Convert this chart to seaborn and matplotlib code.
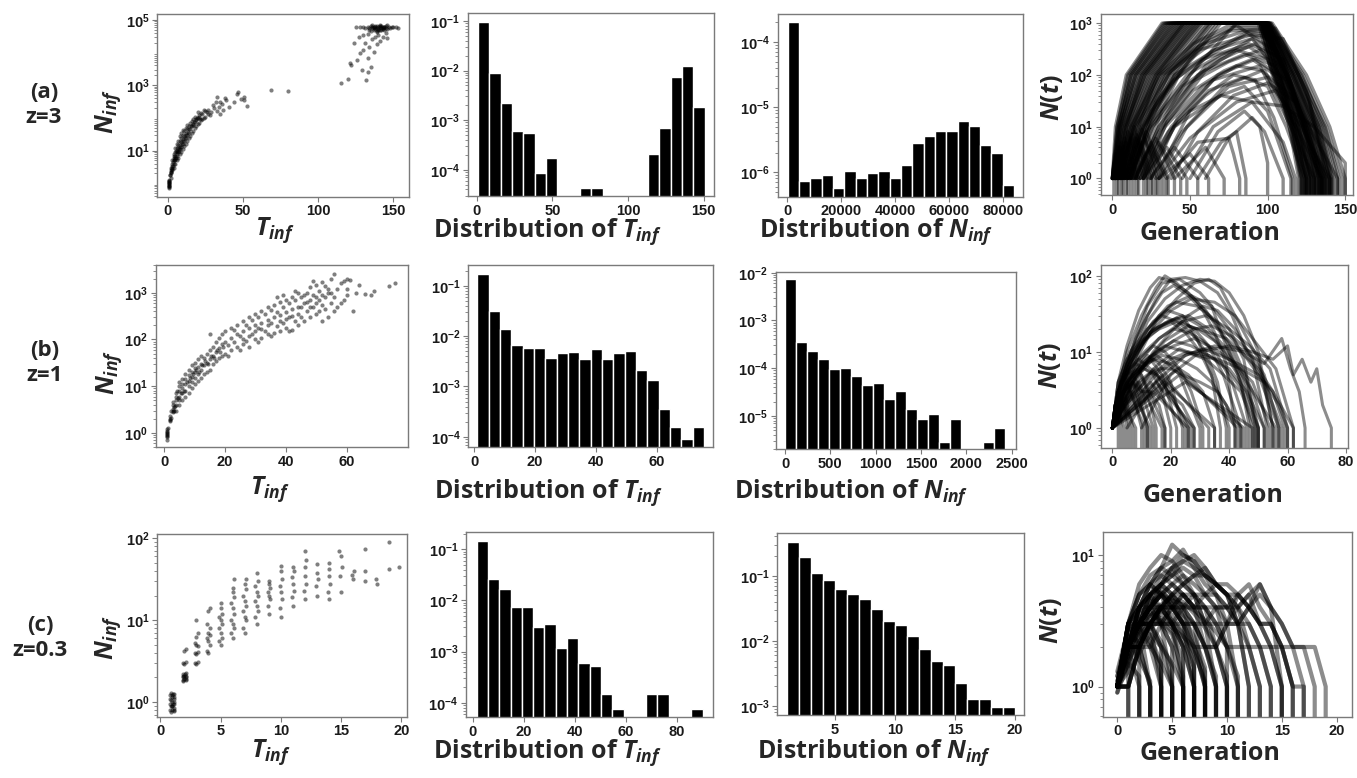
import numpy as np
import pandas as pd
import matplotlib
matplotlib.use("Agg")
import matplotlib.pyplot as plt
import seaborn as sns

# ---------------- data: scatter panels (T_inf, N_inf) ----------------
scatter_a = [(1.0,0.7),(1.0,0.8),(1.0,0.9),(1.0,1.0),(1.0,1.1),(1.0,1.2),(1.1,1.3),(0.9,0.75),(1.0,0.85),(1.0,0.95),(1.0,1.05),(1.0,1.15),
    (2,1.5),(2,2),(2,2.5),(2,3),(1.8,1.8),(2.2,2.2),(3,2.5),(3,3),(3,4),(3,5),(2.8,3.5),(3.2,2.8),
    (4,3),(4,4),(4,5),(4,6),(4,8),(3.8,4.5),(4.2,7),(5,4),(5,5),(5,7),(5,9),(5,12),(4.8,6),(5.3,10),
    (6,5),(6,7),(6,9),(6,12),(6,16),(6.2,10),(7,6),(7,9),(7,12),(7,15),(7,20),(7.3,11),
    (8,8),(8,11),(8,15),(8,20),(8,28),(9,9),(9,13),(9,18),(9,25),(9,35),(10,11),(10,16),(10,22),(10,30),(10,42),
    (11,14),(11,20),(11,28),(11,40),(12,16),(12,24),(12,34),(12,50),(13,20),(13,30),(13,45),(13,60),
    (14,25),(14,35),(14,55),(15,28),(15,45),(15,70),(16,35),(16,55),(16,80),(17,40),(17,65),(17,95),
    (18,50),(18,75),(18,110),(19,55),(19,90),(20,65),(20,100),(20,150),(21,70),(21,120),(22,85),(22,140),
    (23,95),(23,135),(25,110),(25,160),(27,130),(27,175),(29,150),(30,245),(33,450),(33,160),(35,310),(35,135),
    (37,180),(39,350),(41,220),(46,520),(51,450),(51,360),(53,230),(69,700),(80,680),(115,1150),(120,1600),
    (1.5,1.8),(2.5,2.2),(3.5,3.5),(4.5,5),(5.5,6),(6.5,8),(7.5,10),(8.5,13),(9.5,16),(10.5,20),(11.5,25),
    (12.5,30),(13.5,38),(14.5,45),(15.5,55),(16.5,60),(17.5,75),(18.5,85),(19.5,100),(20.5,110),(21.5,95),
    (24,100),(24,170),(26,150),(28,120),(31,200),(32,300),(34,220),(36,260),(38,400),(44,300),(47,600),(49,380),
    (121,4700),(122,4200),(124,19000),(128,9500),(129,2900),(133,2600),(132,1450),(126,6000),(130,12000),
    (131,20000),(133,7000),(134,15000),(135,3500),(136,25000),(137,10000),(138,30000),(139,18000),(140,35000),
    (141,22000),(143,30000),(145,40000),(146,28000),(127,30000),(130,35000),(133,38000),
    (131,55000),(133,60000),(134,50000),(135,65000),(136,55000),(137,48000),(137,62000),(138,58000),(138,52000),
    (139,66000),(139,45000),(140,60000),(140,54000),(141,50000),(141,63000),(142,57000),(142,47000),(143,61000),
    (143,53000),(144,58000),(144,49000),(145,64000),(145,55000),(146,52000),(147,60000),(148,56000),(149,62000),
    (150,58000),(152,60000),(153,55000),(128,60000),(125,62000),(130,58000),(136,70000),(141,70000),(146,67000),
    (139,42000),(135,45000),(134,56000),(136,60000),(138,64000),(140,50000),(142,66000),(144,62000),(137,57000),
    (139,55000),(141,58000),(143,56000)]

scatter_b = [(1,0.7),(1,0.8),(1,0.9),(1,1.0),(1,1.1),(1,1.2),(1.1,1.3),(0.9,0.85),(1,0.95),(1,1.05),
    (2,1.8),(2,2),(2,2.3),(2.2,2.1),(1.9,1.9),(2.1,3),(3,2.8),(3,3),(3,3.2),(3.2,3.5),(2.9,4),(3,4.5),(3.3,3),
    (4,3),(4,4),(4,5),(4,6),(4,7),(4.2,8),(5,4),(5,5),(5,6),(5,8),(5,10),(5,12),(6,5),(6,7),(6,9),(6,11),(6,14),
    (7,6),(7,8),(7,11),(7,14),(7,18),(8,7),(8,10),(8,13),(8,17),(8,22),(9,9),(9,12),(9,16),(9,20),(9,28),
    (10,11),(10,15),(10,20),(10,25),(10,32),(11,13),(11,18),(11,26),(11,38),(12,15),(12,22),(12,30),(12,45),
    (13,18),(13,28),(13,40),(14,20),(14,32),(14,50),(15,22),(15,38),(15,60),(15,130),(16,30),(16,45),(16,70),
    (17,35),(17,55),(17,90),(18,40),(18,65),(18,110),(19,45),(19,80),(19,130),(20,50),(20,90),(20,150),
    (22,60),(22,110),(22,180),(24,70),(24,130),(24,200),(26,80),(26,150),(26,250),(26,100),
    (28,70),(28,180),(28,300),(28,120),(30,100),(30,200),(30,350),(30,150),(32,110),(32,230),(32,400),(32,170),
    (34,130),(34,260),(34,500),(34,200),(36,140),(36,300),(36,550),(38,150),(38,330),(38,650),(38,250),
    (40,180),(40,380),(40,700),(40,280),(42,160),(42,450),(42,800),(42,320),(44,200),(44,500),(44,1000),(44,350),
    (46,250),(46,600),(46,900),(48,300),(48,700),(48,1300),(48,500),(50,350),(50,800),(50,1500),(50,600),
    (52,250),(52,900),(52,1700),(52,550),(54,300),(54,1000),(54,1200),(56,400),(56,800),(56,2500),
    (58,600),(58,1600),(60,900),(60,2000),(60,1200),(62,400),(61,1900),(66,950),(68,900),(74,1400),(76,1600),
    (21,45),(21,75),(23,90),(23,160),(25,60),(25,120),(27,95),(27,200),(29,130),(29,260),(31,90),(31,180),
    (31,300),(33,150),(33,350),(35,120),(35,220),(35,420),(37,190),(37,380),(37,800),(39,220),(39,500),
    (39,900),(41,150),(41,300),(41,600),(43,250),(43,700),(43,1100),(45,300),(45,500),(45,800),(47,400),
    (47,1000),(47,650),(49,500),(49,900),(49,1800),(51,700),(51,1100),(51,400),(53,450),(53,800),(53,1400),
    (55,600),(55,1000),(55,2000),(57,500),(57,1200),(59,700),(59,1800),(63,1000),(64,1500),(69,1100),
    (3.5,3.8),(4.5,5.5),(5.5,7),(6.5,8),(7.5,12),(8.5,15),(9.5,18),(10.5,22),(11.5,20),(12.5,28),(13.5,35),
    (14.5,30),(15.5,45),(16.5,40),(17.5,60),(18.5,55),(19.5,70)]

scatter_c = [(0.9,0.75),(1.0,0.8),(1.1,0.85),(0.95,0.9),(1.05,0.95),(1.0,1.0),(0.9,1.05),(1.1,1.1),(1.0,1.15),
    (0.95,1.2),(1.05,1.25),(0.9,1.3),(1.1,0.78),(1.0,0.88),(0.85,0.95),(1.15,1.0),(0.85,1.2),(1.15,1.25),
    (0.85,0.8),(1.15,0.8),(0.85,1.1),(1.15,1.15),(0.9,0.9),(1.1,0.95),
    (1.9,1.8),(2.0,1.9),(2.1,2.0),(1.95,2.1),(2.05,2.2),(2.1,1.85),(1.9,3),(2.1,3.1),(2.0,2.9),(2.0,4.2),(2.1,4.5),
    (1.85,2.0),(2.15,2.1),(1.85,2.2),(2.15,1.9),(1.85,1.85),(2.15,2.25),(1.9,2.05),
    (2.9,3),(3.1,3.1),(3.0,2.9),(2.9,4),(3.1,4.1),(3.0,3.9),(3.0,5),(2.9,5.2),(3.1,4.8),(3.0,6.2),(3.1,7),(3.0,10),
    (4,4),(3.9,4.2),(4.1,5),(4,5.5),(3.9,6),(4.1,6.5),(4,7),(4.1,8),(3.9,9),(4,13),(4.1,14),
    (5,5),(4.9,5.5),(5.1,6),(5,7),(4.9,8),(5.1,9),(5,10),(4.9,11),(5.1,12),(5,14),(5,16),
    (6,6),(5.9,7),(6.1,8),(6,9),(5.9,10),(6.1,12),(6,14),(5.9,16),(6.1,19),(6,22),(6,25),(6.1,32),
    (7,7),(6.9,8),(7.1,10),(7,11),(6.9,13),(7.1,15),(7,17),(6.9,20),(7.1,24),(7,28),(7.1,32),
    (8,9),(7.9,11),(8.1,13),(8,15),(7.9,17),(8.1,20),(8,22),(7.9,26),(8.1,30),(8,38),
    (9,12),(8.9,15),(9.1,18),(9,20),(8.9,22),(9.1,25),(9,28),(9,30),
    (10,11),(9.9,14),(10.1,18),(10,22),(9.9,26),(10.1,32),(10,40),(10,46),
    (11,15),(10.9,19),(11.1,23),(11,28),(10.9,34),(11.1,40),(11,45),
    (12,18),(11.9,23),(12.1,28),(12,35),(12,45),(12.1,55),(12,70),
    (13,20),(12.9,26),(13.1,32),(13,38),(13,48),(14,18),(13.9,22),(14.1,28),(14,35),(14,42),(14,50),
    (15,22),(14.9,35),(15.1,45),(15,60),(14.8,70),(16,32),(15.9,36),(16.1,40),(17,30),(17,40),(17,75),
    (18,28),(17.9,32),(19,42),(19,90),(19.8,45)]

# ---------------- data: histograms (bin range, bin heights) ----------------
hist_T_a_range = (0.9, 150.6)
hist_T_a = [0.097, 9.1e-3, 2.2e-3, 6.0e-4, 5.5e-4, 8.5e-5, 1.74e-4, 0, 0, 4.3e-5,
            4.3e-5, 0, 0, 0, 0, 2.1e-4, 7.1e-4, 7.3e-3, 1.26e-2, 1.8e-3]
hist_N_a_range = (200, 84280)
hist_N_a = [2.0e-4, 7.2e-7, 8.1e-7, 8.9e-7, 5.7e-7, 1.05e-6, 8.1e-7, 9.7e-7, 1.05e-6, 8.1e-7,
            1.28e-6, 2.8e-6, 3.65e-6, 4.3e-6, 4.3e-6, 6.1e-6, 5.2e-6, 2.66e-6, 2.0e-6, 6.4e-7]
hist_T_b_range = (1.0, 75.5)
hist_T_b = [0.171, 0.032, 0.0138, 6.7e-3, 5.85e-3, 5.85e-3, 3.76e-3, 4.65e-3, 4.9e-3, 3.5e-3,
            5.5e-3, 3.5e-3, 4.65e-3, 5.1e-3, 2.1e-3, 1.33e-3, 3.5e-4, 1.6e-4, 8.9e-5, 1.6e-4]
hist_N_b_range = (0, 2426)
hist_N_b = [7.4e-3, 3.6e-4, 2.24e-4, 1.55e-4, 9.5e-5, 1.0e-4, 6.9e-5, 4.5e-5, 4.8e-5, 2.3e-5,
            3.4e-5, 1.4e-5, 8.5e-6, 1.12e-5, 2.85e-6, 8.5e-6, 0, 0, 2.85e-6, 5.6e-6]
hist_T_c_range = (1.6, 90.2)
hist_T_c = [0.147, 0.0263, 0.0166, 7.6e-3, 7.6e-3, 3.05e-3, 3.4e-3, 1.2e-3, 1.87e-3, 5.9e-4,
            5.2e-4, 1.5e-4, 7.5e-5, 0, 0, 1.5e-4, 1.5e-4, 0, 0, 7.5e-5]
hist_N_c_range = (1, 20)
hist_N_c = [0.33, 0.195, 0.111, 0.087, 0.063, 0.052, 0.0435, 0.0305, 0.02, 0.0178,
            0.0118, 7.5e-3, 4.9e-3, 4.3e-3, 2.26e-3, 1.3e-3, 1.3e-3, 9.7e-4, 9.7e-4]

# ---------------- data: trajectories N(t) ----------------
cap_levels = [1, 10, 100, 1000, 1000, 100, 10, 1, 0]   # N of saturating runs at the listed times
cap_times_a = [
 [0,3,10,33,95,104,115,121,122], [0,4,12,36,96,106,117,124,125], [1,5,14,38,97,108,119,126,127],
 [1,6,16,41,97,109,121,128,129], [2,7,18,43,98,111,123,130,131], [2,8,20,46,98,112,125,132,133],
 [3,10,22,48,99,114,127,134,135], [4,11,25,51,99,115,128,136,137], [5,13,27,54,100,117,130,138,139],
 [6,15,30,57,100,118,132,140,141], [8,18,33,60,101,120,134,142,143], [10,21,37,64,101,122,136,145,146],
 [0,5,15,40,96,107,118,125,126], [1,7,19,45,97,110,122,129,130], [3,9,21,47,98,113,126,133,134],
 [5,12,26,52,99,116,129,137,138], [7,16,31,58,100,119,133,141,142], [12,24,40,68,102,123,138,148,149],
 [0,3,11,34,95,105,116,123,124], [2,6,17,42,98,110,124,131,132], [15,30,50,80,103,125,140,150,151],
 [0,2,9,32,94,103,114,120,121], [0,4,13,37,95,105,116,122,123], [1,4,12,35,96,107,118,124,125],
 [2,9,19,44,97,109,120,127,128], [3,11,24,50,98,111,124,131,132], [4,9,23,49,99,112,126,133,134],
 [6,13,28,55,99,114,128,135,136], [7,17,29,56,100,116,131,139,140], [9,19,34,62,101,118,133,141,142],
 [11,23,39,66,101,120,135,143,144], [13,26,43,70,102,121,137,146,147], [1,8,21,46,96,108,120,127,128],
 [2,5,15,39,97,106,117,125,126], [4,14,28,53,98,113,127,136,137], [8,20,36,63,100,117,131,138,139],
]
other_a = [
 ([15,30,55,80,100,118,128,129],[1,10,100,300,200,10,1,0]),
 ([20,38,65,95,115,130,131],[1,10,80,150,10,1,0]),
 ([25,45,75,100,120,135,136],[1,8,60,90,8,1,0]),
 ([30,50,80,105,122,138,139],[1,6,30,50,10,1,0]),
 ([18,35,60,90,108,125,126],[1,15,150,500,100,1,0]),
 ([22,40,70,85,100,115,116],[1,10,40,60,20,1,0]),
 ([35,55,75,78,82,83],[1,5,6,3,1,0]),
 ([40,60,72,73],[1,4,1,0]),
 ([28,50,70,90,110,118,119],[1,20,40,30,5,1,0]),
 ([45,65,90,110,130,150,151],[1,10,30,25,10,2,0]),
 ([10,25,50,75,105,125,140,141],[1,20,200,700,800,50,1,0]),
 ([12,28,55,90,110,127,137,138],[1,30,300,600,500,30,1,0]),
 ([20,35,60,85,105,120,130,131],[1,12,120,250,150,10,1,0]),
 ([25,42,68,92,112,126,134,135],[1,15,100,200,80,5,1,0]),
 ([30,48,72,96,115,128,140,141],[1,10,60,120,40,4,1,0]),
 ([38,55,78,100,118,132,145,146],[1,8,40,70,30,5,1,0]),
 ([15,32,58,88,110,124,133,134],[1,20,200,400,200,10,1,0]),
 ([50,68,85,95,100,101],[1,8,20,10,2,0]),
 ([55,70,80,86,87],[1,5,8,1,0]),
 ([60,75,90,98,110,111],[1,6,15,8,1,0]),
 ([5,15,35,60,85,100,112,125,135,136],[1,10,100,400,700,600,100,10,1,0]),
 ([8,20,40,65,90,105,118,130,131],[1,10,80,300,500,300,30,1,0]),
 ([10,22,45,70,92,104,117,128,129],[1,8,60,200,400,250,20,1,0]),
 ([6,18,38,62,80,98,112,122,123],[1,12,120,500,900,400,40,1,0]),
 ([12,26,50,75,95,108,120,132,133],[1,10,70,180,300,150,20,1,0]),
 ([4,14,32,55,78,95,110,124,134,135],[1,10,100,350,800,800,200,10,1,0]),
 ([14,30,52,72,90,105,118,127,128],[1,8,50,120,200,100,10,1,0]),
 ([9,21,42,64,86,100,114,126,136,137],[1,10,90,250,600,500,80,8,1,0]),
 ([16,34,58,80,98,110,122,123],[1,10,60,150,120,30,1,0]),
 ([18,36,60,78,92,104,116,117],[1,8,40,100,80,15,1,0]),
 ([7,19,40,66,88,102,116,130,140,141],[1,10,100,300,700,700,100,10,1,0]),
 ([11,25,48,70,88,100,112,125,126],[1,12,100,250,350,200,20,1,0]),
 ([20,40,62,85,100,112,124,125],[1,10,50,90,60,10,1,0]),
 ([3,12,30,52,75,97,110,125,135,136],[1,10,100,400,900,900,150,10,1,0]),
 ([0,2,4,5],[1,3,1,0]), ([1,4,7,8],[1,4,1,0]), ([2,6,10,11],[1,5,1,0]),
 ([3,8,14,15],[1,6,1,0]), ([4,10,17,18],[1,8,1,0]), ([5,12,20,21],[1,6,1,0]),
 ([6,14,23,24],[1,10,1,0]), ([8,16,26,27],[1,7,1,0]), ([10,19,29,30],[1,9,1,0]),
 ([12,22,33,34],[1,8,1,0]), ([14,25,36,37],[1,5,1,0]), ([16,28,40,41],[1,6,1,0]),
 ([20,35,48,49],[1,4,1,0]), ([0,1,2],[1,2,0]), ([1,3,4],[1,2,0]),
 ([0,3,6,7],[1,3,1,0]), ([1,5,9,10],[1,4,1,0]), ([2,7,12,13],[1,4,1,0]), ([3,9,16,17],[1,5,1,0]),
 ([5,13,22,23],[1,7,1,0]), ([7,15,25,26],[1,6,1,0]), ([9,18,28,29],[1,5,1,0]), ([11,21,31,32],[1,6,1,0]),
 ([13,24,35,36],[1,4,1,0]), ([18,30,44,45],[1,5,1,0]), ([24,40,55,56],[1,4,1,0]), ([30,50,62,63],[1,3,1,0]),
]

traj_b = [
 ([0,2,5,10,15,18,22,28,35,42,48,52,53],[1,3,10,30,70,100,80,50,25,10,3,1,0]),
 ([0,3,7,12,17,23,30,34,38,44,47,48],[1,4,12,40,80,90,60,40,15,4,1,0]),
 ([0,4,9,15,22,28,33,37,42,50,55,56],[1,3,9,25,50,80,90,70,30,8,1,0]),
 ([0,2,6,11,16,22,29,36,43,50,57,58],[1,2,6,15,30,45,40,25,12,5,1,0]),
 ([0,1,4,8,13,19,26,33,40,46,50,51],[1,2,5,10,18,25,30,20,10,3,1,0]),
 ([0,3,6,10,14,20,25,30,35,40,41],[1,3,6,12,20,25,18,10,4,1,0]),
 ([0,2,5,9,14,18,23,27,31,32],[1,2,4,8,12,10,6,3,1,0]),
 ([0,3,8,12,16,20,24,25],[1,3,6,9,7,4,1,0]),
 ([0,2,5,9,12,15,16],[1,3,5,6,3,1,0]),
 ([0,4,10,16,24,32,40,47,54,60,61],[1,3,8,15,25,30,20,12,6,1,0]),
 ([0,2,6,12,19,27,34,40,45,49,50],[1,4,10,20,40,55,40,20,8,1,0]),
 ([0,1,3,6,10,14,19,24,29,34,37,38],[1,2,4,8,15,25,35,30,15,5,1,0]),
 ([0,3,9,14,20,26,31,36,42,48,53,54],[1,2,5,10,18,30,40,35,20,8,1,0]),
 ([0,2,4,8,11,14,17,20,21],[1,2,3,5,6,5,3,1,0]),
 ([0,5,11,18,26,33,39,44,50,55,59,60],[1,3,7,14,22,18,15,10,6,3,1,0]),
 ([0,2,7,13,20,27,35,42,48,56,62,63],[1,3,8,18,35,50,45,30,15,6,1,0]),
 ([0,3,6,10,13,17,20,22,23],[1,2,4,6,8,5,2,1,0]),
 ([0,1,3,5,8,10,11],[1,2,3,4,2,1,0]),
 ([0,2,5,8,12,17,22,27,32,36,39,40],[1,3,6,10,20,30,25,18,10,4,1,0]),
 ([0,4,8,14,21,28,34,41,47,52,57,58],[1,2,5,9,14,20,22,16,10,5,1,0]),
 ([0,2,6,11,17,22,28,33,38,44,45],[1,3,7,14,22,28,20,12,5,1,0]),
 ([0,3,7,11,15,19,23,27,30,31],[1,2,4,7,9,7,5,2,1,0]),
 ([10,20,30,40,48,55,60,62,65,68,70,72,75,76],[1,5,10,12,10,8,12,5,8,4,6,2,1,0]),
 ([5,15,25,35,45,52,58,61,64,66,67],[1,4,9,12,10,7,15,6,3,1,0]),
 ([0,3,8,15,20,25,30,36,41,46,52,58,59],[1,4,15,50,90,95,85,60,30,10,4,1,0]),
 ([0,2,6,12,17,21,26,31,35,39,42,43],[1,3,9,30,60,75,55,35,18,7,1,0]),
 ([0,5,10,16,23,29,36,44,52,57,60,61],[1,2,4,7,11,9,8,6,4,2,1,0]),
 ([0,2,5,9,13,16,20,26,32,40,47,50,51],[1,4,12,35,70,95,85,60,35,12,3,1,0]),
 ([0,3,7,12,18,24,30,35,40,45,50,55,56],[1,3,9,25,50,75,90,85,60,30,10,1,0]),
 ([0,2,5,9,14,20,26,31,35,36],[1,2,4,6,8,7,5,3,1,0]),
 ([0,1,4,7,12,17,23,29,34,39,42,43],[1,2,3,5,7,9,8,6,4,2,1,0]),
 ([0,3,7,12,18,25,32,38,44,49,50],[1,3,5,8,12,10,8,5,3,1,0]),
 ([0,2,4,7,10,13,16,18,19],[1,2,3,4,3,3,2,1,0]),
 ([0,2,6,10,15,21,27,33,40,46,52,53],[1,2,4,7,10,14,12,9,6,3,1,0]),
 ([0,1,3,6,9,13,18,22,26,27],[1,2,4,6,8,6,4,2,1,0]),
 ([0,4,9,15,21,28,35,42,48,54,55],[1,3,5,9,12,15,11,7,4,1,0]),
 ([0,2,5,8,11,15,19,24,28,29],[1,3,5,7,6,5,3,2,1,0]),
 ([0,3,8,14,20,26,33,39,45,50,51],[1,2,3,5,8,10,9,6,3,1,0]),
 ([0,2,6,11,16,21,26,31,36,41,46,47],[1,3,6,10,15,20,18,14,9,4,1,0]),
 ([0,1,2,4,7,10,14,15],[1,2,3,4,5,3,1,0]),
 ([0,2,5,10,16,22,29,35,41,46,56,57],[1,4,8,14,20,25,20,14,8,4,1,0]),
 ([0,3,6,9,12,16,20,24,30,36,44,45],[1,2,3,4,5,6,6,5,4,3,1,0]),
 ([0,1,3,5,7,9,12,13],[1,2,3,3,4,3,1,0]),
 ([0,2,5,9,13,18,24,30,37,43,48,49],[1,3,7,12,18,24,30,22,12,5,1,0]),
 ([0,4,10,15,20,25,31,37,43,50,55,62,63],[1,2,3,5,7,9,11,9,7,5,3,1,0]),
 ([0,1,2,4,6,7],[1,2,2,2,1,0]), ([0,2,4,5],[1,2,1,0]),
 ([0,1,2,3],[1,2,1,0]), ([0,2,3,4],[1,2,1,0]), ([0,3,5,6],[1,3,1,0]),
 ([0,4,7,8],[1,3,1,0]), ([0,4,8,9],[1,2,1,0]), ([0,6,11,12],[1,3,1,0]),
 ([0,7,12,13],[1,4,1,0]), ([0,7,13,14],[1,3,1,0]), ([0,9,17,18],[1,4,1,0]),
 ([0,10,18,19],[1,5,1,0]), ([0,13,25,26],[1,4,1,0]), ([0,14,26,27],[1,3,1,0]),
 ([0,14,27,28],[1,6,1,0]), ([0,15,28,29],[1,4,1,0]), ([0,17,33,34],[1,5,1,0]),
 ([0,18,35,36],[1,4,1,0]), ([0,22,43,44],[1,6,1,0]), ([0,23,45,46],[1,5,1,0]),
 ([0,25,48,49],[1,4,1,0]),
]

traj_c = [
 ([0,1,2,3,4,5,6,7],[1,2,3,4,3,2,1,0]),
 ([0,1,2,3,4,5,6,7,8,9],[1,2,4,5,6,5,4,2,1,0]),
 ([0,1,2,3,4,5,6,7,8,9,10,11],[1,3,5,7,8,9,7,5,4,2,1,0]),
 ([0,1,2,3,4,5],[1,2,2,3,1,0]),
 ([0,1,2,3,4],[1,2,3,1,0]),
 ([0,1,2,3],[1,2,1,0]),
 ([0,1,2],[1,1,0]),
 ([0,1,2,3,4,5,6,7,8,9,10,11,12,13,14],[1,2,3,5,6,8,10,9,7,6,5,4,2,1,0]),
 ([0,1,2,3,4,5,6,7,8,9,10,11,12,13,14,15,16,17],[1,2,3,4,6,5,5,4,4,3,3,5,6,4,3,2,1,0]),
 ([0,1,2,3,4,5,6,7,8],[1,3,4,6,5,4,3,1,0]),
 ([0,1,2,3,4,5,6],[1,2,3,3,2,1,0]),
 ([0,1,2,3,4,5,6,7,8,9,10,11,12,13,14,15,16,17,18,19],[1,2,4,6,8,12,10,9,7,6,5,4,5,6,4,3,2,2,1,0]),
 ([0,1,2,3,4,5,6,7,8,9,10],[1,2,3,5,7,8,6,5,3,1,0]),
 ([0,1,2,3,4,5,6,7,8,9,10,11,12,13],[1,1,2,3,4,5,6,7,8,6,5,3,1,0]),
 ([0,1,2,3,4,5,6,7,8,9,10,11,12,13,14,15,16],[1,2,3,4,5,4,4,3,2,2,3,4,5,3,2,1,0]),
 ([0,1,2,3,4,5,6,7,8,9,10,11,12],[1,3,6,8,10,9,11,8,6,5,3,1,0]),
 ([0,1,2,3,4,5,6,7,8,9,10,11,12,13,14,15],[1,2,2,3,4,4,5,4,3,3,2,2,2,2,1,0]),
 ([0,1,2,3,4,5,6,7,8,9],[1,2,3,4,4,3,3,2,1,0]),
 ([0,1,2,3,4,5,6,7],[1,2,4,5,4,3,1,0]),
 ([0,1,2,3,4,5,6,7,8,9,10,11,12,13,14,15,16,17,18],[1,1,2,2,3,3,4,4,5,5,4,3,3,2,2,2,1,1,0]),
 ([0,1,2,3,4,5],[1,2,3,2,1,0]),
 ([0,1,2,3,4,5,6,7,8,9,10,11],[1,3,5,6,8,7,6,5,3,2,1,0]),
 ([0,1,2,3,4,5,6,7,8,9,10,11,12,13,14,15,16,17,18,19,20],[1,2,3,3,4,4,3,3,2,2,3,3,4,5,4,3,2,2,2,1,0]),
 ([0,1,2,3,4,5,6,7,8,9,10,11,12,13],[1,2,3,5,6,7,9,10,8,6,5,3,1,0]),
 ([0,1,2],[1,2,0]),
 ([0,1,2,3,4],[1,1,2,1,0]),
 ([0,1,2,3,4,5,6,7,8],[1,2,3,3,4,3,2,1,0]),
 ([0,1,2,3,4,5,6,7,8,9,10],[1,2,2,3,3,4,3,2,2,1,0]),
 ([0,1,2,3,4,5,6],[1,3,4,5,3,1,0]),
 ([0,1,2,3,4,5,6,7,8,9,10,11,12,13,14,15,16],[1,2,3,4,5,6,7,6,5,4,4,3,4,6,4,1,0]),
 ([0,1,2,3,4,5,6,7,8,9],[1,2,3,3,4,5,4,3,1,0]),
 ([0,1,2,3,4,5,6],[1,2,4,4,3,2,0]),
 ([0,1,2,3,4,5,6,7],[1,3,3,4,5,3,2,0]),
 ([0,1,2,3,4,5,6,7,8,9,10,11,12],[1,2,3,4,5,6,5,4,4,3,2,1,0]),
 ([0,1,2,3,4,5,6,7,8,9,10],[1,2,4,6,7,6,5,4,2,1,0]),
 ([0,1,2,3,4],[1,2,2,1,0]),
 ([0,1,2,3,4,5],[1,3,4,3,2,0]),
 ([0,1,2,3,4,5,6,7,8,9,10,11,12,13,14],[1,2,3,3,4,4,5,5,4,4,3,3,2,1,0]),
 ([0,1,2,3,4,5,6,7,8,9,10,11],[1,2,3,4,6,7,8,7,5,4,2,0]),
 ([0,1,2,3,4,5,6,7,8],[1,1,2,3,3,3,2,1,0]),
 ([0,1,2,3,4,5,6,7,8,9,10,11,12,13,14,15,16,17],[1,2,3,4,4,5,6,7,7,6,5,5,4,3,3,2,1,0]),
 ([0,1,2,3],[1,3,2,0]),
 ([0,1,2,3,4,5,6,7,8,9,10,11,12,13,14,15],[1,2,4,5,6,8,9,8,7,5,4,4,3,2,1,0]),
 ([0,1,2,3,4,5,6,7,8,9,10,11,12,13,14,15,16,17,18],[1,3,5,6,5,4,3,3,3,4,4,5,4,3,3,2,2,1,0]),
 ([0,1,2,3,4,5,6,7,8,9,10,11,12,13,14,15,16],[1,2,2,3,3,4,4,5,5,6,6,5,4,3,2,1,0]),
 ([0,1,2,3,4,5,6],[1,1.5,2.5,2,1.5,1,0]),
 ([0,1,2,3,4,5,6,7],[1.2,2,3,3.5,3,2.5,1.2,0]),
 ([0,1,2,3,4,5,6,7,8],[1,2.5,3.5,4.5,4,3.5,2.5,1.5,0]),
 ([0,1,2,3,4,5],[1,1.8,2.8,2.2,1.3,0]),
 ([0,1,2,3,4,5,6,7,8,9],[0.9,1.5,2.2,3,3.8,3.2,2.5,1.8,1.1,0]),
 ([0,1,2,3,4],[1.1,2.2,1.6,1.1,0]),
 ([0,1,2,3,4,5,6,7,8,9,10],[1,2,3,4,5,4.5,3.5,3,2,1.2,0]),
 ([0,1,2,3,4,5,6,7],[1,1.3,1.8,2.5,2,1.5,1,0]),
 ([0,1,2,3,4,5,6,7,8],[1.3,2.8,4,5,5.5,4.2,3,1.6,0]),
 ([0,1,2,3],[1,1.5,1.2,0]),
 ([0,1,2,3,4,5,6],[0.9,2,2.5,3,2.2,1.4,0]),
 ([0,1,2,3,4,5,6,7,8,9],[1,2.2,3.2,3.6,3.3,2.8,2.4,2,1.3,0]),
 ([0,1,2,3,4,5,6,7,8,9,10,11],[1,1.8,2.6,3.4,4.2,4.8,4.4,3.6,2.8,2,1.2,0]),
 ([0,1,2,3,4,5],[1.2,2.6,3.4,2.4,1.5,0]),
 ([0,1,2,3,4,5,6,7],[1,1.6,2.2,2.8,3.2,2.6,1.6,0]),
 ([0,1,2,3,4,5,6,7,8,9,10,11,12],[1,2,2.8,3.5,4,4.5,4.2,3.8,3.2,2.6,2,1.2,0]),
 ([0,1,2,3,4,5,6,7,8],[1,2.4,2.2,3,3.6,3,2.2,1.4,0]),
 ([0,1,2,3,4,5,6,7,8,9],[1.1,1.7,2.8,4.2,5.2,4.6,3.4,2.4,1.4,0]),
]

row_labels = ["(a)\nz=3", "(b)\nz=1", "(c)\nz=0.3"]

# ---------------- style ----------------
sns.set_theme(style="ticks")
plt.rcParams["font.family"] = ["Liberation Sans", "DejaVu Sans"]
plt.rcParams["font.weight"] = "bold"
plt.rcParams["mathtext.fontset"] = "custom"
plt.rcParams["mathtext.it"] = "Open Sans:italic:bold"
plt.rcParams["mathtext.rm"] = "Open Sans:bold"
plt.rcParams["mathtext.bf"] = "Open Sans:bold"

W, H = 1357, 778
fig = plt.figure(figsize=(W / 100, H / 100), dpi=100)
LABEL_FONT = "Open Sans"
SPINE = "#7a7a7a"


def box(l, t, r, b):
    return [l / W, 1 - b / H, (r - l) / W, (b - t) / H]


def style_axes(ax, xlim, ylim, xticks, yticks):
    ax.set_yscale("log")
    ax.set_xlim(*xlim)
    ax.set_ylim(*ylim)
    ax.set_xticks(xticks)
    ax.set_yticks(yticks)
    for s in ax.spines.values():
        s.set_visible(True)
        s.set_color(SPINE)
        s.set_linewidth(1.0)
    ax.tick_params(axis="both", which="major", length=3.5, width=0.8, color=SPINE,
                   labelsize=10.5, labelcolor="#1a1a1a", pad=2)
    ax.tick_params(axis="y", which="minor", length=2, width=0.6, color=SPINE)
    ax.grid(False)


def place_xlabel(ax, text, x, y, size=18):
    ax.set_xlabel(text, fontsize=size, fontfamily=LABEL_FONT, fontweight="bold", va="center", ha="center")
    ax.xaxis.set_label_coords(x / W, 1 - y / H, transform=fig.transFigure)


def place_ylabel(ax, text, x, y, size=18):
    ax.set_ylabel(text, fontsize=size, fontfamily=LABEL_FONT, fontweight="bold", va="center", ha="center")
    ax.yaxis.set_label_coords(x / W, 1 - y / H, transform=fig.transFigure)


def scatter_panel(pos, pts, xlim, ylim, xticks, yticks, ylab_xy, xlab_xy):
    ax = fig.add_axes(box(*pos))
    df = pd.DataFrame(pts, columns=["T", "N"])
    sns.scatterplot(data=df, x="T", y="N", ax=ax, color="black", s=9, alpha=0.5,
                    linewidth=0, legend=False)
    style_axes(ax, xlim, ylim, xticks, yticks)
    place_xlabel(ax, r"$T_{inf}$", *xlab_xy)
    place_ylabel(ax, r"$N_{inf}$", *ylab_xy)
    return ax


def hist_panel(pos, heights, brange, xlim, ylim, xticks, yticks, xlabel, xlab_xy):
    ax = fig.add_axes(box(*pos))
    nb = len(heights)
    width = (brange[1] - brange[0]) / nb
    df = pd.DataFrame({"center": [brange[0] + width * (i + 0.5) for i in range(nb)],
                       "height": heights})
    sns.histplot(data=df, x="center", weights="height", bins=nb, binrange=brange, ax=ax,
                 color="black", edgecolor="white", linewidth=1.0, alpha=1.0, stat="count")
    style_axes(ax, xlim, ylim, xticks, yticks)
    ax.set_ylabel("")
    place_xlabel(ax, xlabel, *xlab_xy)
    return ax


def traj_panel(pos, trajs, xlim, ylim, xticks, yticks, lw, alpha, ylab_xy, xlab_xy):
    ax = fig.add_axes(box(*pos))
    rows = []
    for i, (ts, ns) in enumerate(trajs):
        for t, n in zip(ts, ns):
            rows.append((i, t, n))
    df = pd.DataFrame(rows, columns=["run", "t", "N"])
    sns.lineplot(data=df, x="t", y="N", units="run", estimator=None, sort=False,
                 color="black", lw=lw, alpha=alpha, ax=ax, legend=False)
    style_axes(ax, xlim, ylim, xticks, yticks)
    place_xlabel(ax, "Generation", *xlab_xy)
    place_ylabel(ax, r"$N(t)$", *ylab_xy)
    return ax


traj_a = [(ts, cap_levels) for ts in cap_times_a] + other_a

# ---------------- row (a) ----------------
scatter_panel((157, 14, 408.7, 196.7), scatter_a, (-7.1, 160.2), (0.39, 1.5e5),
              [0, 50, 100, 150], [1e1, 1e3, 1e5], (108, 111), (275, 230))
hist_panel((467.7, 13.3, 714.3, 196), hist_T_a, hist_T_a_range, (-6, 157), (2.95e-5, 0.143),
           [0, 50, 100, 150], [1e-4, 1e-3, 1e-2, 1e-1], r"Distribution of $T_{inf}$", (547, 232))
hist_panel((777.7, 14, 1023.3, 196.7), hist_N_a, hist_N_a_range, (-3570, 87700), (4.2e-7, 2.7e-4),
           [0, 20000, 40000, 60000, 80000], [1e-6, 1e-5, 1e-4], r"Distribution of $N_{inf}$", (876, 232))
traj_panel((1100.7, 14, 1352.7, 195), traj_a, (-7.5, 154.8), (0.48, 1500),
           [0, 50, 100, 150], [1, 10, 100, 1000], 2.4, 0.45, (1052, 97), (1210, 233))

# ---------------- row (b) ----------------
scatter_panel((155.7, 264.7, 408, 447.3), scatter_b, (-2.8, 80.2), (0.49, 4000),
              [0, 20, 40, 60], [1, 10, 100, 1000], (109, 372), (270, 489))
hist_panel((468.3, 265, 713.3, 447.3), hist_T_b, hist_T_b_range, (-2.0, 78.6), (6.2e-5, 0.258),
           [0, 20, 40, 60], [1e-4, 1e-3, 1e-2, 1e-1], r"Distribution of $T_{inf}$", (548, 493))
hist_panel((775.7, 271.7, 1015.7, 449.3), hist_N_b, hist_N_b_range, (-103, 2544), (2.0e-6, 1.05e-2),
           [0, 500, 1000, 1500, 2000, 2500], [1e-5, 1e-4, 1e-3, 1e-2], r"Distribution of $N_{inf}$", (851, 493))
traj_panel((1100.7, 264.7, 1348, 447.7), traj_b, (-4.0, 80.7), (0.55, 140),
           [0, 20, 40, 60, 80], [1, 10, 100], 2.2, 0.45, (1050, 365), (1213, 495))

# ---------------- row (c) ----------------
scatter_panel((157, 534, 407.3, 716.7), scatter_c, (-0.27, 20.5), (0.66, 113),
              [0, 5, 10, 15, 20], [1, 10, 100], (108, 637), (271, 752))
hist_panel((466, 531.7, 713.3, 717.3), hist_T_c, hist_T_c_range, (-2.6, 94.4), (5.2e-5, 0.22),
           [0, 20, 40, 60, 80], [1e-4, 1e-3, 1e-2, 1e-1], r"Distribution of $T_{inf}$", (547, 753))
hist_panel((777.3, 532.7, 1024.3, 715), hist_N_c, hist_N_c_range, (0.19, 20.8), (7.3e-4, 0.457),
           [5, 10, 15, 20], [1e-3, 1e-2, 1e-1], r"Distribution of $N_{inf}$", (874, 753))
traj_panel((1102.7, 532.3, 1352, 716.7), traj_c, (-1.33, 21.4), (0.59, 14.9),
           [0, 5, 10, 15, 20], [1, 10], 3.0, 0.45, (1051, 620), (1210, 753))

# ---------------- row labels ----------------
for lab, (x, y) in zip(row_labels, [(44, 105), (45, 363), (40, 638)]):
    fig.text(x / W, 1 - y / H, lab, ha="center", va="center", fontsize=16,
             fontfamily=LABEL_FONT, fontweight="bold", linespacing=1.3)

fig.savefig("out.png", dpi=100)
